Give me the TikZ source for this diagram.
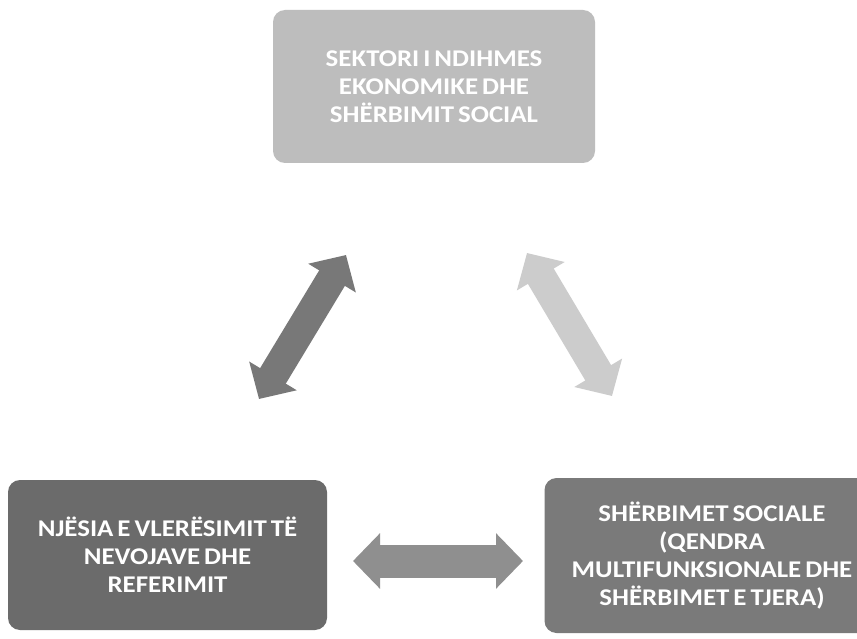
\documentclass[tikz,border=0pt]{standalone}
\usepackage{fontspec}
\setmainfont[FakeStretch=1.12]{Carlito}
\usetikzlibrary{arrows.meta}

\definecolor{topgray}{gray}{0.74}
\definecolor{leftgray}{gray}{0.42}
\definecolor{rightgray}{gray}{0.48}
\definecolor{larrow}{gray}{0.47}
\definecolor{rarrow}{gray}{0.80}
\definecolor{barrow}{gray}{0.56}

\newcommand{\sectorfont}{\bfseries\fontsize{24}{28}\selectfont\spaceskip=4pt plus 1pt\relax}

\tikzset{
  sector/.style={rounded corners=12pt, align=center, text=white,
    font=\sectorfont, inner sep=0pt},
  bigarrow/.style={line width=30pt,
    {Triangle[length=27pt,width=54pt]}-{Triangle[length=27pt,width=54pt]}}
}

\begin{document}
\begin{tikzpicture}[x=1pt,y=-1pt]
    \clip (0,0) rectangle (857,639);
    \fill [white](0,0) rectangle (857,639);
    \node [sector, fill=topgray, minimum width=322pt, minimum height=153pt] (sektori) at (434,86.5)
        {SEKTORI I NDIHMES\\EKONOMIKE DHE\\SHËRBIMIT SOCIAL};
    \node [sector, fill=leftgray, minimum width=319pt, minimum height=150pt] (njesia) at (167.5,555)
        {NJËSIA E VLERËSIMIT TË\\NEVOJAVE DHE\\REFERIMIT};
    \node [sector, fill=rightgray, minimum width=335pt, minimum height=155pt] (sherbimet) at (712,555.5)
        {SHËRBIMET SOCIALE\\(QENDRA\\MULTIFUNKSIONALE DHE\\SHËRBIMET E TJERA)};
    \coordinate (l1) at (259,399);
    \coordinate (l2) at (346,255);
    \coordinate (r1) at (527,253);
    \coordinate (r2) at (612,396);
    \coordinate (b1) at (353,561);
    \coordinate (b2) at (523,561);
    \draw [bigarrow, larrow] (l1)--(l2);
    \draw [bigarrow, rarrow] (r1)--(r2);
    \draw [bigarrow, barrow, line width=33pt] (b1)--(b2);
\end{tikzpicture}
\end{document}
